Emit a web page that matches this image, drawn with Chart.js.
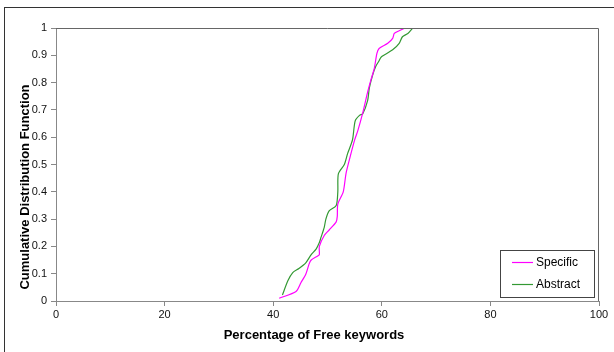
<!DOCTYPE html>
<html>
<head>
<meta charset="utf-8">
<script src="https://cdn.jsdelivr.net/npm/chart.js@4/dist/chart.umd.min.js"></script>
<style>
  html, body { margin: 0; padding: 0; background: #fff; overflow: hidden; }
  #wrap { position: relative; width: 614px; height: 352px; }
  #frame { position: absolute; left: 4px; top: 7px; width: 640px; height: 400px;
           border-left: 1px solid #333; border-top: 1px solid #333; pointer-events: none; }
</style>
</head>
<body>
<div id="wrap">
  <canvas id="c" width="614" height="352"></canvas>
  <div id="frame"></div>
</div>
<script>
// CDF curves
const specificX = [41.1, 44.2, 45.1, 46.0, 46.6, 47.0, 48.2, 48.5, 48.5, 49.4, 50.3, 51.6, 51.8, 51.9, 52.9, 53.4, 54.0, 55.0, 55.6, 56.5, 57.4, 58.0, 58.6, 59.1, 59.5, 61.1, 62.0, 62.3, 63.2, 64.3];
const specificY = [0.01, 0.035, 0.067, 0.098, 0.135, 0.15, 0.165, 0.17, 0.2, 0.24, 0.26, 0.29, 0.31, 0.355, 0.40, 0.466, 0.515, 0.59, 0.625, 0.69, 0.766, 0.81, 0.85, 0.907, 0.925, 0.944, 0.962, 0.98, 0.99, 1.0];
const abstractX = [41.7, 42.7, 43.6, 44.8, 46.0, 47.0, 47.9, 48.5, 48.8, 49.4, 49.7, 50.3, 51.6, 51.9, 52.0, 53.1, 53.7, 54.6, 55.1, 55.9, 56.5, 57.4, 57.7, 58.3, 58.9, 59.5, 59.9, 62.0, 63.2, 63.8, 64.8, 65.7];
const abstractY = [0.022, 0.074, 0.104, 0.12, 0.14, 0.17, 0.19, 0.214, 0.233, 0.27, 0.30, 0.33, 0.35, 0.40, 0.466, 0.50, 0.54, 0.59, 0.66, 0.68, 0.686, 0.735, 0.78, 0.827, 0.86, 0.88, 0.894, 0.92, 0.944, 0.968, 0.98, 1.0];
const seriesNames = ['Specific', 'Abstract'];
const seriesColors = ['#ff00ff', '#339933'];
const xTitle = 'Percentage of Free keywords';
const yTitle = 'Cumulative Distribution Function';

const pts = (xs, ys) => xs.map((x, i) => ({ x, y: ys[i] }));
const FONT = '"Liberation Sans", Arial, sans-serif';

// titles, legend box, top/right border of the plot area
const extras = {
  id: 'extras',
  afterDraw(chart) {
    const { ctx, chartArea: a } = chart;
    ctx.save();
    ctx.strokeStyle = '#666';
    ctx.lineWidth = 1;
    ctx.beginPath();
    ctx.moveTo(a.left, a.top + 0.5);
    ctx.lineTo(a.right - 0.5, a.top + 0.5);
    ctx.lineTo(a.right - 0.5, a.bottom);
    ctx.stroke();

    // legend
    ctx.fillStyle = '#fff';
    ctx.fillRect(500, 250, 94, 47);
    ctx.strokeStyle = '#444';
    ctx.strokeRect(500.5, 250.5, 94, 47);
    ctx.font = '12px ' + FONT;
    ctx.textAlign = 'left';
    ctx.textBaseline = 'middle';
    chart.data.datasets.forEach((ds, i) => {
      const y = 262.5 + i * 22;
      ctx.strokeStyle = ds.borderColor;
      ctx.lineWidth = 1.2;
      ctx.beginPath();
      ctx.moveTo(512, y);
      ctx.lineTo(533, y);
      ctx.stroke();
      ctx.fillStyle = '#000';
      ctx.fillText(ds.label, 536, y);
    });

    ctx.fillStyle = '#000';
    ctx.font = 'bold 13px ' + FONT;
    ctx.textAlign = 'center';
    ctx.textBaseline = 'middle';
    ctx.fillText(xTitle, 314, 335);
    ctx.translate(25, 187);
    ctx.rotate(-Math.PI / 2);
    ctx.fillText(yTitle, 0, 0);
    ctx.restore();
  }
};

const chart = new Chart(document.getElementById('c'), {
  type: 'scatter',
  data: {
    datasets: [
      { label: seriesNames[0], data: pts(specificX, specificY), borderColor: seriesColors[0] },
      { label: seriesNames[1], data: pts(abstractX, abstractY), borderColor: seriesColors[1] }
    ].map(d => ({ ...d, showLine: true, borderWidth: 1.2, pointRadius: 0, tension: 0.25, fill: false }))
  },
  options: {
    responsive: false,
    animation: false,
    layout: { padding: { left: 0, top: 28, right: 15, bottom: 0 } },
    plugins: { legend: { display: false }, tooltip: { enabled: false } },
    scales: {
      x: {
        type: 'linear', min: 0, max: 100,
        ticks: { stepSize: 20, color: '#111', font: { family: FONT, size: 11 }, padding: 2, maxRotation: 0 },
        grid: { drawOnChartArea: false, tickLength: 5, color: '#888' },
        border: { color: '#888', width: 1 },
        afterFit: (s) => { s.height = 51; s.paddingLeft = 0; s.paddingRight = 0; }
      },
      y: {
        min: 0, max: 1,
        ticks: { stepSize: 0.1, color: '#111', font: { family: FONT, size: 11 }, padding: 4,
                 callback: (v) => String(+v.toFixed(1)) },
        grid: { drawOnChartArea: false, tickLength: 5, color: '#888' },
        border: { color: '#888', width: 1 },
        afterFit: (s) => { s.width = 56; s.paddingTop = 0; s.paddingBottom = 0; }
      }
    }
  },
  plugins: [extras]
});
</script>
</body>
</html>
